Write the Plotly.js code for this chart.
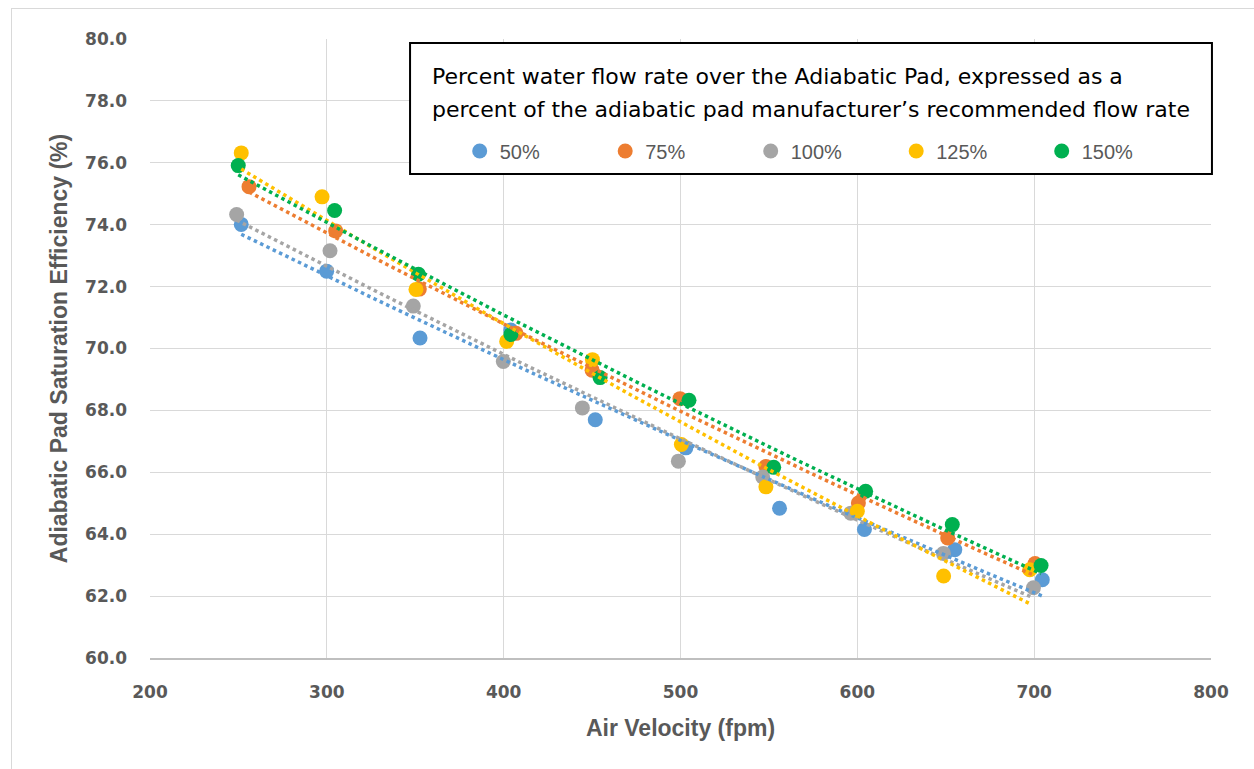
<!DOCTYPE html>
<html>
<head>
<meta charset="utf-8">
<script src="https://cdn.plot.ly/plotly-3.0.1.min.js"></script>
<style>
  html, body { margin: 0; padding: 0; background: #ffffff; }
  #wrap { position: relative; width: 1254px; height: 769px; overflow: hidden; }
  #frame { position: absolute; left: 11px; top: 8px; width: 1260px; height: 780px; border: 1px solid #D9D9D9; box-sizing: border-box; pointer-events: none; }
  #chart { position: absolute; left: 0; top: 0; width: 1254px; height: 769px; }
</style>
</head>
<body>
<div id="wrap">
  <div id="frame"></div>
  <div id="chart"></div>
</div>
<script>
// ---- Data ----
const seriesNames = ["50%", "75%", "100%", "125%", "150%"];
const seriesColors = ["#5B9BD5", "#ED7D31", "#A5A5A5", "#FFC000", "#00B050"];

const velocity50  = [251.6, 299.9, 352.7, 404.0, 451.8, 503.0, 556.0, 604.0, 655.1, 704.6];
const efficiency50 = [74.01, 72.50, 70.34, 70.60, 67.70, 66.79, 64.84, 64.15, 63.50, 62.53];

const velocity75  = [256.0, 305.0, 352.3, 407.0, 450.0, 499.7, 548.3, 600.6, 651.1, 700.5];
const efficiency75 = [75.23, 73.80, 71.92, 70.49, 69.30, 68.38, 66.19, 65.01, 63.88, 63.05];

const velocity100  = [249.0, 301.8, 348.9, 399.8, 444.5, 498.8, 546.5, 596.3, 648.7, 699.6];
const efficiency100 = [74.33, 73.16, 71.37, 69.58, 68.08, 66.36, 65.85, 64.68, 63.38, 62.27];

const velocity125  = [251.6, 297.3, 350.4, 401.7, 450.2, 500.5, 548.3, 600.0, 648.8, 697.5];
const efficiency125 = [76.32, 74.90, 71.91, 70.23, 69.64, 66.90, 65.53, 64.74, 62.65, 62.85];

const velocity150  = [249.9, 304.4, 351.8, 404.1, 454.5, 504.8, 552.7, 604.7, 653.7, 703.9];
const efficiency150 = [75.91, 74.46, 72.40, 70.45, 69.06, 68.33, 66.16, 65.39, 64.31, 62.99];

const xTickVals = [200, 300, 400, 500, 600, 700, 800];
const yTickVals = [60, 62, 64, 66, 68, 70, 72, 74, 76, 78, 80];

const legendTitleLine1 = "Percent water flow rate over the Adiabatic Pad, expressed as a";
const legendTitleLine2 = "percent of the adiabatic pad manufacturer\u2019s recommended flow rate";

const allX = [velocity50, velocity75, velocity100, velocity125, velocity150];
const allY = [efficiency50, efficiency75, efficiency100, efficiency125, efficiency150];

// ---- Exponential least-squares trendline (fit of ln y on x), like the spreadsheet's ----
function expFit(xs, ys) {
  const n = xs.length;
  let sx = 0, sy = 0, sxx = 0, sxy = 0;
  for (let i = 0; i < n; i++) {
    const ly = Math.log(ys[i]);
    sx += xs[i]; sy += ly; sxx += xs[i] * xs[i]; sxy += xs[i] * ly;
  }
  const b = (n * sxy - sx * sy) / (n * sxx - sx * sx);
  const a = (sy - b * sx) / n;
  return x => Math.exp(a + b * x);
}

const traces = [];
for (let s = 0; s < 5; s++) {
  traces.push({
    type: "scatter", mode: "markers", name: seriesNames[s],
    x: allX[s], y: allY[s],
    marker: { color: seriesColors[s], size: 15 },
    hoverinfo: "x+y+name", showlegend: true, legendrank: s
  });
}
for (let s = 0; s < 5; s++) {
  const f = expFit(allX[s], allY[s]);
  const lo = Math.min(...allX[s]), hi = Math.max(...allX[s]);
  const tx = [], ty = [];
  for (let i = 0; i <= 60; i++) { const x = lo + (hi - lo) * i / 60; tx.push(x); ty.push(f(x)); }
  traces.push({
    type: "scatter", mode: "lines", x: tx, y: ty, showlegend: false, hoverinfo: "skip",
    line: { color: seriesColors[s], width: 3.5, dash: "3.5px,3.5px" }
  });
}

const tickFont = { family: "DejaVu Sans", size: 17, color: "#595959", weight: "bold" };
const titleFont = { family: "Liberation Sans", size: 23, color: "#595959", weight: "bold" };

const layout = {
  width: 1254, height: 769,
  margin: { l: 150, r: 43, t: 39, b: 111 },
  paper_bgcolor: "rgba(0,0,0,0)", plot_bgcolor: "#ffffff",
  showlegend: true,
  xaxis: {
    range: [200, 800], tickvals: xTickVals, ticktext: xTickVals.map(String),
    showgrid: true, gridcolor: "#D9D9D9", gridwidth: 1.3,
    showline: true, linecolor: "#BFBFBF", linewidth: 1.5, zeroline: false,
    ticks: "", ticklabelstandoff: 18, tickfont: tickFont,
    title: { text: "Air Velocity (fpm)", font: titleFont, standoff: 19 }
  },
  yaxis: {
    range: [60, 80], tickvals: yTickVals, ticktext: yTickVals.map(v => v.toFixed(1)),
    showgrid: true, gridcolor: "#D9D9D9", gridwidth: 1.3,
    showline: false, zeroline: false,
    ticks: "", ticklabelstandoff: 22, tickfont: tickFont,
    title: { text: "Adiabatic Pad Saturation Efficiency (%)", font: titleFont, standoff: 10 }
  },
  legend: {
    orientation: "h", x: 0.2919, xanchor: "left", y: 0.819, yanchor: "middle",
    bgcolor: "rgba(0,0,0,0)", borderwidth: 0,
    font: { family: "Liberation Sans", size: 20, color: "#595959" },
    entrywidth: 100.5, entrywidthmode: "pixels", itemwidth: 30, traceorder: "normal"
  },
  shapes: [{
    type: "rect", xref: "paper", yref: "paper", layer: "above",
    x0: 0.2451, x1: 1.0009, y0: 0.7819, y1: 0.9935,
    line: { color: "#000000", width: 2 }, fillcolor: "#ffffff"
  }],
  annotations: [
    { xref: "paper", yref: "paper", x: 0.2639, y: (658 - 76) / 619, xanchor: "left", yanchor: "middle",
      showarrow: false, text: legendTitleLine1, font: { family: "DejaVu Sans", size: 22, color: "#000000" } },
    { xref: "paper", yref: "paper", x: 0.2639, y: (658 - 110) / 619, xanchor: "left", yanchor: "middle",
      showarrow: false, text: legendTitleLine2, font: { family: "DejaVu Sans", size: 22, color: "#000000" } }
  ]
};

Plotly.newPlot("chart", traces, layout, { displayModeBar: false, staticPlot: false });
</script>
</body>
</html>
